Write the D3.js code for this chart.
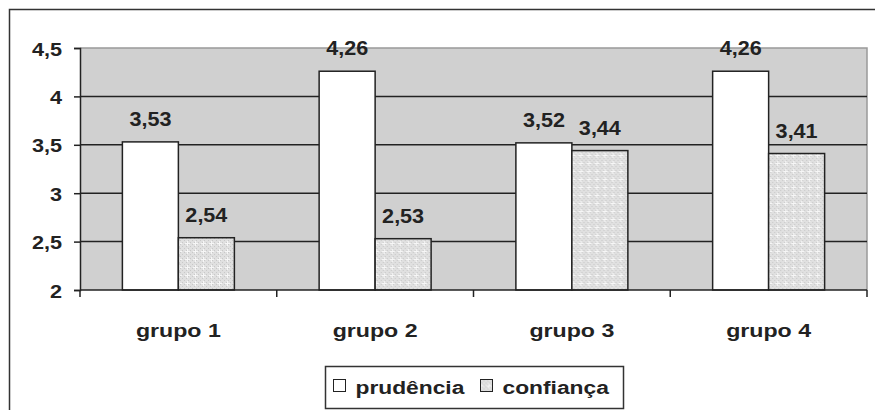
<!DOCTYPE html>
<html>
<head>
<meta charset="utf-8">
<script src="https://cdn.jsdelivr.net/npm/d3@7"></script>
<style>
  body { margin: 0; background: #fff; }
  text { font-family: "Liberation Sans", Arial, sans-serif; font-weight: bold; fill: #222; }
</style>
</head>
<body>
<svg width="875" height="410"></svg>
<script>
var groups = ["grupo 1", "grupo 2", "grupo 3", "grupo 4"];
var seriesNames = ["prudência", "confiança"];
var prudencia = [3.53, 4.26, 3.52, 4.26];
var confianca = [2.54, 2.53, 3.44, 3.41];
var yTicks = [2, 2.5, 3, 3.5, 4, 4.5];

var svg = d3.select("svg");
var fmt = function(v){ return String(v).replace(".", ","); };

var plot = {left: 80, right: 867, top: 48, bottom: 290};

// pattern for confianca
var defs = svg.append("defs");
var pat = defs.append("pattern").attr("id", "dots")
  .attr("patternUnits", "userSpaceOnUse")
  .attr("width", 8).attr("height", 8);
pat.append("rect").attr("width", 8).attr("height", 8).attr("fill", "#e0e0e0");
[[0,0],[2,2],[4,0],[6,2],[0,4],[2,6],[4,4],[6,6]].forEach(function(p){
  pat.append("rect").attr("x", p[0]).attr("y", p[1]).attr("width", 1).attr("height", 1).attr("fill", "#c8c8c8");
});
pat.append("rect").attr("x", 3).attr("y", 1).attr("width", 1).attr("height", 5).attr("fill", "#f6f6f6");
pat.append("rect").attr("x", 1).attr("y", 3).attr("width", 5).attr("height", 1).attr("fill", "#f6f6f6");

// outer frame
svg.append("rect").attr("x", 9.5).attr("y", 9.5).attr("width", 900).attr("height", 500)
  .attr("fill", "#fff").attr("stroke", "#333").attr("stroke-width", 1.5);

var y = d3.scaleLinear().domain([2, 4.5]).range([plot.bottom, plot.top]);
var x0 = d3.scaleBand().domain(groups).range([plot.left, plot.right]).padding(0);
var x1 = d3.scaleBand().domain(seriesNames).range([0, x0.bandwidth()]).paddingInner(0).paddingOuter(0.757);

// plot background
svg.append("rect").attr("x", plot.left).attr("y", y(4.5))
  .attr("width", plot.right - plot.left).attr("height", y(2) - y(4.5))
  .attr("fill", "#d0d0d0");
svg.append("path").attr("d", "M" + plot.left + "," + y(4.5) + "H" + plot.right + "V" + y(2))
  .attr("fill", "none").attr("stroke", "#999").attr("stroke-width", 1.5);

// gridlines
svg.append("g").selectAll("line").data(yTicks.slice(1, -1)).join("line")
  .attr("x1", plot.left).attr("x2", plot.right)
  .attr("y1", function(d){ return y(d); }).attr("y2", function(d){ return y(d); })
  .attr("stroke", "#222").attr("stroke-width", 1.5);

// bars
var data = groups.map(function(g, i){
  return {group: g, values: [{s: seriesNames[0], v: prudencia[i]}, {s: seriesNames[1], v: confianca[i]}]};
});
var gG = svg.append("g").selectAll("g").data(data).join("g")
  .attr("transform", function(d){ return "translate(" + x0(d.group) + ",0)"; });
gG.selectAll("rect").data(function(d){ return d.values; }).join("rect")
  .attr("x", function(d){ return x1(d.s); })
  .attr("y", function(d){ return y(d.v); })
  .attr("width", x1.bandwidth())
  .attr("height", function(d){ return y(2) - y(d.v); })
  .attr("fill", function(d){ return d.s === seriesNames[0] ? "#fff" : "url(#dots)"; })
  .attr("stroke", "#222").attr("stroke-width", 1.5);
gG.selectAll("text").data(function(d){ return d.values; }).join("text")
  .attr("transform", function(d){
    return "translate(" + (x1(d.s) + x1.bandwidth() / 2) + "," + (y(d.v) - 16) + ") scale(1.08,1)";
  })
  .attr("text-anchor", "middle").style("font-size", "20px")
  .text(function(d){ return fmt(d.v); });

// axes
var yAxis = d3.axisLeft(y).tickValues(yTicks).tickSize(6).tickPadding(8).tickFormat(fmt);
var ya = svg.append("g").attr("transform", "translate(" + plot.left + ",0)").call(yAxis);
ya.select(".domain").attr("stroke", "#222").attr("stroke-width", 1.5);
ya.selectAll(".tick line").attr("stroke", "#222").attr("stroke-width", 1.5);
ya.selectAll(".tick text")
  .attr("x", null).attr("dy", null)
  .attr("transform", "translate(-18,7) scale(1.14,1)")
  .attr("text-anchor", "end")
  .style("font-size", "19px").style("font-family", null).attr("fill", "#222");
ya.attr("font-family", null).attr("font-size", null);

var xa = svg.append("g").attr("transform", "translate(0," + plot.bottom + ")");
xa.append("line").attr("x1", plot.left).attr("x2", plot.right)
  .attr("stroke", "#222").attr("stroke-width", 1.5);
xa.selectAll("line.tk").data(groups.concat(["end"])).join("line").attr("class", "tk")
  .attr("x1", function(d){ return d === "end" ? plot.right : x0(d); })
  .attr("x2", function(d){ return d === "end" ? plot.right : x0(d); })
  .attr("y1", 0).attr("y2", 7)
  .attr("stroke", "#222").attr("stroke-width", 1.5);
xa.selectAll("text").data(groups).join("text")
  .attr("transform", function(d){ return "translate(" + (x0(d) + x0.bandwidth() / 2) + ",47) scale(1.22,1)"; })
  .attr("text-anchor", "middle").style("font-size", "19px")
  .text(function(d){ return d; });

// legend
var leg = svg.append("g").attr("transform", "translate(325.5,366.5)");
leg.append("rect").attr("width", 298).attr("height", 42)
  .attr("fill", "#fff").attr("stroke", "#333").attr("stroke-width", 1.5);
var legX = [8, 155];
seriesNames.forEach(function(s, i){
  leg.append("rect").attr("x", legX[i]).attr("y", 13).attr("width", 12).attr("height", 12)
    .attr("fill", i === 0 ? "#fff" : "url(#dots)").attr("stroke", "#222").attr("stroke-width", 1);
  leg.append("text").attr("transform", "translate(" + (legX[i] + 22) + ",27) scale(1.2,1)")
    .style("font-size", "19px").text(s);
});
</script>
</body>
</html>
